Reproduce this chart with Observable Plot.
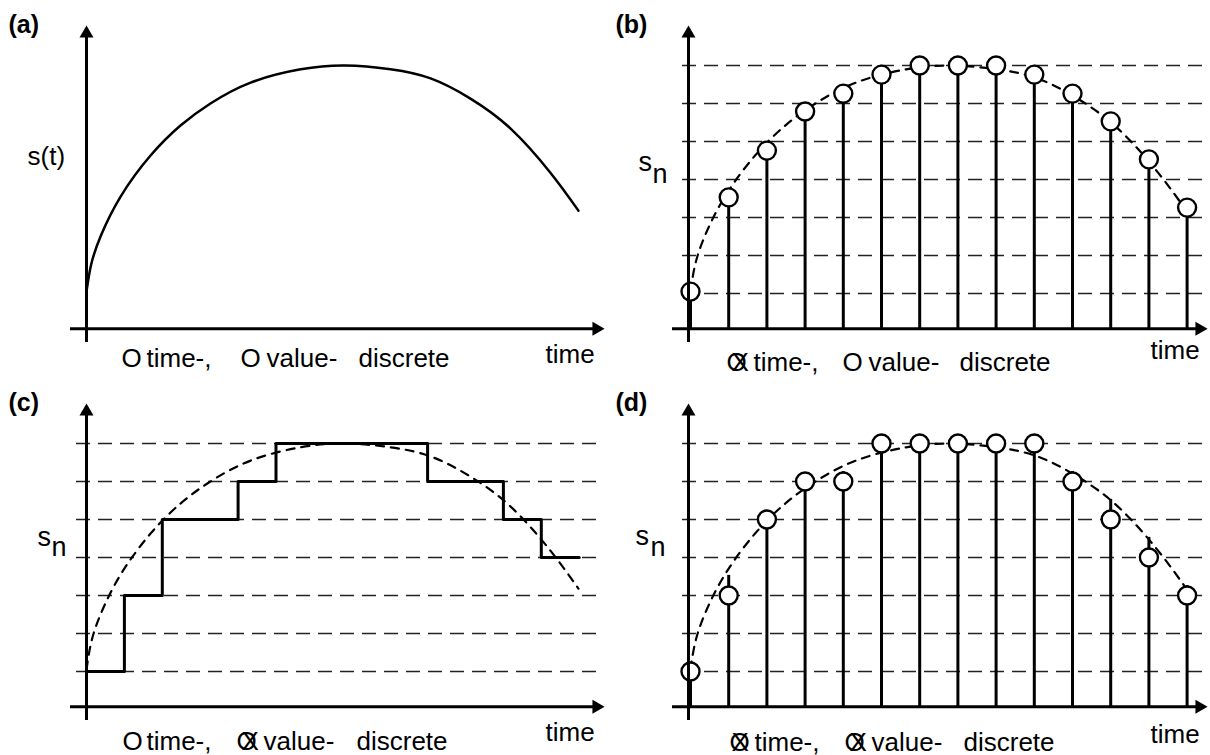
<!DOCTYPE html>
<html><head><meta charset="utf-8">
<script src="https://cdn.jsdelivr.net/npm/d3@7"></script>
<script src="https://cdn.jsdelivr.net/npm/@observablehq/plot@0.6"></script>
<style>
body{margin:0;background:#fff;}
#fig{position:relative;width:1210px;height:755px;overflow:hidden;background:#fff;}
.panel{position:absolute;}
.panel svg{display:block;overflow:visible;}
</style></head><body><div id="fig"></div>
<script>
// ---- data ----
const sampleTimes = [0,1,2,3,4,5,6,7,8,9,10,11,12,13];
const sampledValues = [0.05,2.53,3.76,4.79,5.26,5.76,6.0,6.0,6.0,5.76,5.26,4.53,3.53,2.26];
const quantizedSamples = [0,2,4,5,5,6,6,6,6,6,5,4,3,2];
const holdTimes  = [0,1,2,4,5,9,11,12,13];
const holdLevels = [0,2,4,5,6,5,4,3,3];
const curveT = [0,0.12,0.37,0.9,1.69,2.48,3.27,4.33,5.65,6.83,8.02,9.08,10.13,11.19,12.24,12.98];
const curveS = [0.05,0.75,1.5,2.55,3.63,4.42,5.0,5.55,5.9,6.0,5.9,5.66,5.13,4.34,3.18,2.18];
const gridLevels = [0,1,2,3,4,5,6];
const panelLabels = ["(a)","(b)","(c)","(d)"];
const yLabelA = "s(t)";
const yLabelS = "s", yLabelSub = "n";
const timeLabel = "time";

const curve = curveT.map((t,i)=>({t, s: curveS[i]}));
const samples = sampleTimes.map((t,i)=>({t, v: sampledValues[i], q: quantizedSamples[i]}));
const holds = holdTimes.map((t,i)=>({t, s: holdLevels[i]}));

const FONT = "Liberation Sans, Arial, Helvetica, sans-serif";
const FS = 26;
const AXIS = -0.93;

function txt(str, x, y, o = {}) {
  return Plot.text([str], {text: d => d, frameAnchor: "top-left", dx: x, dy: y,
    textAnchor: "start", lineAnchor: "bottom", fontSize: FS, fontFamily: FONT,
    fill: "black", ...o});
}

function panel(cfg) {
  const {x0, dxT, left, top, height} = cfg;
  const tOf = p => (p - x0) / dxT;     // layout pixels -> data units
  const kOf = p => (293 - p) / 38;
  const marks = [];
  if (cfg.grid) marks.push(Plot.ruleY(gridLevels, {x1: tOf(cfg.gridStart), x2: tOf(603), stroke: "#222", strokeWidth: 1.4, strokeDasharray: "14,8"}));
  marks.push(Plot.line(curve, {x: "t", y: "s", curve: "natural", stroke: "black",
     strokeWidth: cfg.dashedCurve ? 2.2 : 2.5, strokeDasharray: cfg.dashedCurve ? "8,7" : null}));
  if (cfg.steps) marks.push(Plot.line(holds, {x: "t", y: "s", curve: "step-after", stroke: "black", strokeWidth: 3}));
  if (cfg.stems) {
    marks.push(Plot.ruleX(samples, {x: "t", y1: AXIS, y2: "v", stroke: "black", strokeWidth: 3}));
    marks.push(Plot.dot(samples, {x: "t", y: cfg.stems, r: 9, fill: "white", stroke: "black", strokeWidth: 2.4}));
  }
  // axes
  marks.push(Plot.ruleY([AXIS], {x1: tOf(cfg.xAxisStart), x2: tOf(594), stroke: "black", strokeWidth: 3}));
  marks.push(Plot.ruleX([tOf(cfg.yAxisX)], {y1: kOf(342), y2: kOf(33), stroke: "black", strokeWidth: 3}));
  marks.push(Plot.dot([0], {x: tOf(cfg.yAxisX), y: kOf(33), symbol: "triangle", r: 5.2, fill: "black", stroke: "none"}));
  marks.push(Plot.dot([0], {x: tOf(cfg.xTip - 8), y: AXIS, symbol: "triangle", r: 5.2, rotate: 90, fill: "black", stroke: "none"}));
  // texts
  marks.push(txt(cfg.label, cfg.labelX, 32.5, {fontWeight: "bold", fontSize: 25}));
  marks.push(txt(timeLabel, 545, cfg.timeY));
  for (const [s, x, y, o] of cfg.texts) marks.push(txt(s, x, y == null ? cfg.textY : y, o || {}));
  const p = Plot.plot({
    width: 605, height, margin: 0,
    x: {type: "linear", domain: [0, 13], range: [x0, x0 + 13 * dxT], axis: null},
    y: {type: "linear", domain: [-1, 7], range: [331, 27], axis: null},
    style: {background: "transparent", overflow: "visible"},
    marks
  });
  const d = document.createElement("div");
  d.className = "panel"; d.style.left = left + "px"; d.style.top = top + "px";
  d.appendChild(p);
  document.getElementById("fig").appendChild(d);
}

// (a)
panel({x0: 86, dxT: 37.9, left: 0, top: 0, height: 378, label: panelLabels[0], labelX: 8,
  yAxisX: 86, xAxisStart: 70, xTip: 604, timeY: 362, textY: 366,
  texts: [[yLabelA, 27, 164], ["O", 121], ["time-,", 146], ["O", 240], ["value-", 266], ["discrete", 358]]});
// (b)
panel({x0: 85, dxT: 38.2, left: 605, top: 0, height: 378, label: panelLabels[1], labelX: 10,
  grid: true, gridStart: 77, dashedCurve: true, stems: "v",
  yAxisX: 83, xAxisStart: 67, xTip: 602, timeY: 358, textY: 370,
  texts: [[yLabelS, 33, 170, {fontSize: 27}], [yLabelSub, 47, 182, {fontSize: 27}],
          ["O", 121], ["X", 126], ["time-,", 148], ["O", 237], ["value-", 263], ["discrete", 354]]});
// (c)
panel({x0: 86, dxT: 37.9, left: 0, top: 378, height: 377, label: panelLabels[2], labelX: 8,
  grid: true, gridStart: 76, dashedCurve: true, steps: true,
  yAxisX: 86, xAxisStart: 70, xTip: 604, timeY: 362, textY: 371,
  texts: [[yLabelS, 37, 167, {fontSize: 27}], [yLabelSub, 51, 177, {fontSize: 27}],
          ["O", 122], ["time-,", 146], ["O", 236], ["X", 241], ["value-", 263], ["discrete", 356]]});
// (d)
panel({x0: 85, dxT: 38.2, left: 605, top: 378, height: 377, label: panelLabels[3], labelX: 10,
  grid: true, gridStart: 77, dashedCurve: true, stems: "q",
  yAxisX: 83, xAxisStart: 67, xTip: 602, timeY: 364, textY: 372,
  texts: [[yLabelS, 30, 166, {fontSize: 27}], [yLabelSub, 45, 177, {fontSize: 27}],
          ["O", 124], ["X", 126], ["time-,", 149], ["O", 239], ["X", 244], ["value-", 266], ["discrete", 358]]});
</script>
</body></html>
